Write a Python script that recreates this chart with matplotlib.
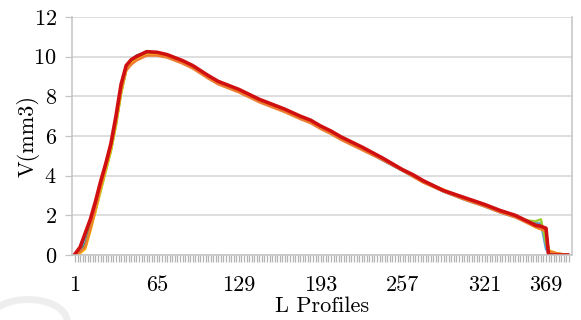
import matplotlib
matplotlib.use("Agg")
import matplotlib.pyplot as plt
from matplotlib.patches import Circle

plt.rcParams['font.family'] = ['cmr10', 'DejaVu Serif']
plt.rcParams['mathtext.fontset'] = 'cm'
plt.rcParams['axes.formatter.use_mathtext'] = True

# profile index where each value was read
profiles = [1, 5, 9, 13, 17, 21, 25, 29, 33, 37, 41, 45, 49, 57, 65, 73, 85, 93,
            105, 113, 121, 129, 137, 145, 153, 165, 177, 185, 193, 201, 209, 225,
            241, 257, 265, 273, 289, 305, 321, 333, 345, 353, 361, 365, 369, 371,
            377, 386]

vol_gray = [0.0, 0.2, 0.8, 1.6, 2.5, 3.5, 4.5, 5.5, 6.8, 8.4, 9.45, 9.75, 9.95, 10.2,
            10.15, 10.05, 9.75, 9.5, 9.0, 8.7, 8.5, 8.3, 8.05, 7.8, 7.6, 7.3, 6.95,
            6.75, 6.45, 6.2, 5.9, 5.4, 4.85, 4.3, 4.0, 3.75, 3.25, 2.9, 2.55, 2.25,
            1.95, 1.75, 1.5, 1.45, 1.3, 0.0, 0.0, 0.0]
vol_navy = [0.05, 0.35, 1.0, 1.7, 2.6, 3.6, 4.55, 5.55, 6.9, 8.5, 9.5, 9.85, 10.05,
            10.25, 10.2, 10.05, 9.75, 9.5, 9.0, 8.7, 8.5, 8.3, 8.05, 7.8, 7.6, 7.3,
            6.95, 6.7, 6.45, 6.15, 5.9, 5.4, 4.8, 4.25, 4.0, 3.7, 3.2, 2.85, 2.5,
            2.2, 1.95, 1.7, 1.45, 1.4, 1.3, 0.05, 0.0, 0.0]
vol_lightblue = [0.0, 0.15, 0.7, 1.5, 2.4, 3.4, 4.4, 5.4, 6.7, 8.3, 9.4, 9.75, 9.95,
                 10.15, 10.15, 10.0, 9.7, 9.45, 8.95, 8.65, 8.45, 8.25, 8.0, 7.75,
                 7.55, 7.25, 6.9, 6.7, 6.4, 6.15, 5.85, 5.35, 4.8, 4.25, 3.95, 3.7,
                 3.2, 2.8, 2.45, 2.15, 1.9, 1.75, 1.6, 1.6, 0.3, 0.1, 0.0, 0.0]
vol_green = [0.0, 0.1, 0.5, 1.4, 2.3, 3.3, 4.3, 5.3, 6.6, 8.2, 9.35, 9.7, 9.9, 10.15,
             10.15, 10.0, 9.7, 9.45, 8.95, 8.65, 8.45, 8.25, 8.0, 7.75, 7.55, 7.25,
             6.9, 6.7, 6.4, 6.15, 5.85, 5.35, 4.85, 4.3, 4.0, 3.7, 3.25, 2.85, 2.5,
             2.2, 1.95, 1.7, 1.5, 1.45, 1.3, 0.15, 0.05, 0.0]
vol_lime = [0.0, 0.1, 0.4, 1.3, 2.2, 3.2, 4.2, 5.2, 6.5, 8.1, 9.3, 9.7, 9.9, 10.15,
            10.1, 10.0, 9.7, 9.45, 8.95, 8.65, 8.45, 8.25, 8.0, 7.75, 7.55, 7.25, 6.9,
            6.7, 6.45, 6.2, 5.9, 5.4, 4.85, 4.3, 4.0, 3.7, 3.25, 2.85, 2.5, 2.2, 1.95,
            1.75, 1.7, 1.8, 0.6, 0.15, 0.0, 0.0]
vol_gold = [0.0, 0.1, 0.3, 1.2, 2.2, 3.3, 4.3, 5.3, 6.6, 8.2, 9.3, 9.65, 9.85, 10.1,
            10.1, 10.0, 9.7, 9.45, 8.95, 8.65, 8.45, 8.25, 8.0, 7.75, 7.55, 7.25, 6.9,
            6.7, 6.4, 6.15, 5.85, 5.35, 4.85, 4.3, 4.0, 3.7, 3.3, 2.85, 2.5, 2.2,
            1.95, 1.7, 1.4, 1.3, 1.2, 0.25, 0.1, 0.0]
vol_orange = [0.0, 0.15, 0.4, 1.3, 2.3, 3.4, 4.4, 5.4, 6.7, 8.3, 9.3, 9.6, 9.8, 10.05,
              10.05, 9.95, 9.65, 9.4, 8.9, 8.6, 8.4, 8.2, 7.95, 7.7, 7.5, 7.2, 6.85,
              6.65, 6.35, 6.1, 5.8, 5.3, 4.8, 4.25, 3.95, 3.65, 3.2, 2.8, 2.45, 2.15,
              1.9, 1.65, 1.4, 1.3, 1.2, 0.2, 0.1, 0.0]
vol_red = [0.05, 0.4, 1.1, 1.8, 2.7, 3.7, 4.6, 5.6, 7.0, 8.6, 9.55, 9.85, 10.0, 10.25,
           10.22, 10.1, 9.8, 9.55, 9.05, 8.75, 8.55, 8.35, 8.1, 7.85, 7.65, 7.35, 7.0,
           6.8, 6.5, 6.25, 5.95, 5.45, 4.9, 4.3, 4.05, 3.75, 3.25, 2.9, 2.55, 2.25,
           2.0, 1.75, 1.5, 1.45, 1.35, 0.0, 0.0, 0.0]

xtick_labels = [1, 65, 129, 193, 257, 321, 369]
ytick_values = [0, 2, 4, 6, 8, 10, 12]

series = [
    (vol_gray, '#a5a5a5'),
    (vol_navy, '#264478'),
    (vol_lightblue, '#5b9bd5'),
    (vol_green, '#548235'),
    (vol_lime, '#9acd32'),
    (vol_gold, '#ffc000'),
    (vol_orange, '#ed7d31'),
]

fig = plt.figure(figsize=(5.81, 3.2), dpi=100)
ax = fig.add_axes([0.124, 0.203, 0.8605, 0.744])

for vals, col in series:
    ax.plot(profiles, vals, color=col, linewidth=1.7, solid_joinstyle='round')
ax.plot(profiles, vol_red, color='#d01010', linewidth=2.6, solid_joinstyle='round')

ax.set_xlim(-1.3, 389.3)
ax.set_ylim(0, 12)
ax.set_xticks(xtick_labels)
ax.set_xticklabels([str(v) for v in xtick_labels])
ax.set_xticks(range(1, 389, 2), minor=True)
ax.set_yticks(ytick_values)

ax.grid(axis='y', color='#d4d4d4', linewidth=1.1)
ax.set_axisbelow(True)
for side in ['left', 'bottom', 'right']:
    ax.spines[side].set_color('#c4c4c4')
    ax.spines[side].set_linewidth(1.1)
ax.spines['top'].set_visible(False)

ax.tick_params(axis='x', which='both', direction='out', length=5, width=0.9,
               color='#b4b4b4', pad=10, labelsize=16)
ax.tick_params(axis='y', direction='out', length=5, width=0.9, color='#c4c4c4',
               pad=6, labelsize=16)

ax.set_xlabel('L Profiles', fontsize=16, va='center')
ax.set_ylabel('V(mm3)', fontsize=16, va='center')
ax.xaxis.set_label_coords(0.5, -0.215)
ax.yaxis.set_label_coords(-0.088, 0.5)

# faint watermark arc in the lower left corner
arc = Circle((28 / 581, 1 - 321 / 320), 39 / 581, transform=fig.transFigure,
             fill=False, edgecolor='#eeeeee', linewidth=5, zorder=-5)
fig.patches.append(arc)

fig.savefig('out.png', dpi=100)
